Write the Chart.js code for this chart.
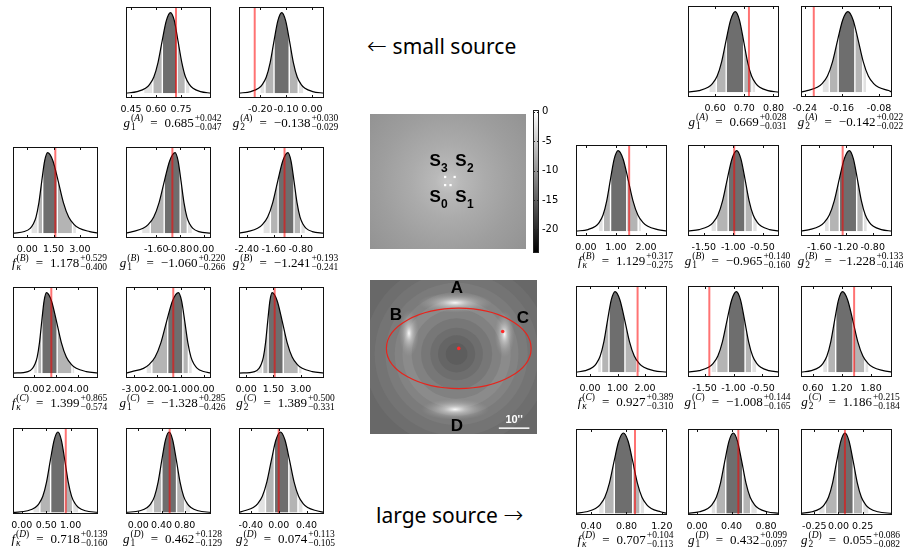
<!DOCTYPE html>
<html>
<head>
<meta charset="utf-8">
<script src="https://cdn.jsdelivr.net/npm/chart.js@4/dist/chart.umd.min.js"></script>
<style>
  html, body { margin: 0; padding: 0; background: #fff; }
  #stage { position: relative; width: 906px; height: 553px; overflow: hidden; }
  #stage canvas { position: absolute; }
  .lab { position: absolute; width: 150px; height: 26px; display: flex; align-items: center; justify-content: center;
         font-family: 'Liberation Serif', 'DejaVu Serif', serif; font-size: 13px; color: #000; white-space: nowrap; }
  .st { display: inline-flex; flex-direction: column; font-size: 9.5px; line-height: 9.5px; margin-left: 1px; }
  .eq { margin: 0 7px; }
  .big { position: absolute; font-family: 'Noto Sans', sans-serif; font-size: 21px; line-height: 24px; color: #000; white-space: nowrap; }
  .arr { font-family: 'DejaVu Sans', sans-serif; font-size: 24px; font-weight: 200; }
</style>
</head>
<body>
<div id="stage">
  <div class="big" style="left:367px;top:34px"><span class="arr">&larr;</span> small source</div>
  <div class="big" style="left:376px;top:503px">large source <span class="arr">&rarr;</span></div>
</div>
<script>
// 22 posterior panels: first 11 = small source (left), last 11 = large source (right)
const labelSym = ['g','g','f','g','g','f','g','g','f','g','g', 'g','g','f','g','g','f','g','g','f','g','g'];
const labelSub = ['1','2','κ','1','2','κ','1','2','κ','1','2', '1','2','κ','1','2','κ','1','2','κ','1','2'];
const labelSup = ['A','A','B','B','B','C','C','C','D','D','D', 'A','A','B','B','B','C','C','C','D','D','D'];
const medians  = [0.685, -0.138, 1.178, -1.060, -1.241, 1.399, -1.328, 1.389, 0.718, 0.462, 0.074,
                  0.669, -0.142, 1.129, -0.965, -1.228, 0.927, -1.008, 1.186, 0.707, 0.432, 0.055];
const errPlus  = [0.042, 0.030, 0.529, 0.220, 0.193, 0.865, 0.285, 0.500, 0.139, 0.128, 0.113,
                  0.028, 0.022, 0.317, 0.140, 0.133, 0.389, 0.144, 0.215, 0.104, 0.099, 0.086];
const errMinus = [0.047, 0.029, 0.400, 0.266, 0.241, 0.574, 0.426, 0.331, 0.160, 0.129, 0.105,
                  0.031, 0.022, 0.275, 0.160, 0.146, 0.310, 0.165, 0.184, 0.113, 0.097, 0.082];

const xMins = [0.42, -0.283, -0.81, -2.62, -2.63, -1.90, -3.35, -0.39, -0.18, -0.21, -0.57,
               0.507, -0.248, -0.33, -1.77, -1.875, -0.51, -1.785, 0.356, 0.229, -0.104, -0.387];
const xMaxs = [0.93, 0.047, 4.03, 0.25, -0.11, 5.80, 0.30, 4.28, 1.56, 1.25, 0.65,
               0.819, -0.052, 2.70, -0.22, -0.51, 2.80, -0.215, 2.23, 1.258, 0.95, 0.553];

const tickVals = [
  [0.45, 0.60, 0.75], [-0.2, -0.1, 0], [0, 1.5, 3], [-1.6, -0.8, 0], [-2.4, -1.6, -0.8],
  [0, 2, 4], [-3, -2, -1, 0], [0, 1.5, 3], [0, 0.5, 1], [0, 0.4, 0.8], [-0.4, 0, 0.4],
  [0.6, 0.7, 0.8], [-0.24, -0.16, -0.08], [0, 1, 2], [-1.5, -1, -0.5], [-1.6, -1.2, -0.8],
  [0, 1, 2], [-1.5, -1, -0.5], [0.6, 1.2, 1.8], [0.4, 0.8, 1.2], [0, 0.4, 0.8], [-0.25, 0, 0.25]
];

// input (true) value, red line
const trueVals = [0.72, -0.222, 1.60, -1.054, -1.28, 1.57, -1.32, 1.57, 0.90, 0.54, 0.0,
                  0.716, -0.2205, 1.44, -0.983, -1.25, 1.73, -1.417, 1.45, 0.896, 0.479, 0.067];

// shaded credible regions: outer edges of the 99 / 95 / 68 per cent bands
const bandEdges = [
  [0.530, 0.581, 0.638, 0.727, 0.776, 0.800],
  [-0.199, -0.182, -0.147, -0.088, -0.053, -0.034],
  [0.25, 0.61, 0.88, 1.71, 2.58, 2.77],
  [-2.07, -1.80, -1.33, -0.79, -0.55, -0.40],
  [-1.90, -1.70, -1.47, -1.00, -0.80, -0.68],
  [0.03, 0.33, 0.71, 2.10, 3.44, 3.64],
  [-2.46, -2.24, -1.56, -0.91, -0.67, -0.53],
  [0.59, 0.91, 1.21, 2.04, 2.87, 3.04],
  [0.24, 0.37, 0.59, 0.88, 1.04, 1.15],
  [0.144, 0.257, 0.406, 0.658, 0.80, 0.887],
  [-0.29, -0.19, -0.063, 0.145, 0.276, 0.34],
  [0.581, 0.604, 0.638, 0.698, 0.726, 0.737],
  [-0.201, -0.187, -0.168, -0.132, -0.115, -0.108],
  [0.44, 0.58, 0.82, 1.36, 1.74, 1.83],
  [-1.368, -1.283, -1.085, -0.80, -0.67, -0.60],
  [-1.515, -1.45, -1.30, -1.04, -0.94, -0.89],
  [0.30, 0.42, 0.69, 1.27, 1.70, 1.82],
  [-1.376, -1.29, -1.09, -0.80, -0.686, -0.61],
  [0.815, 0.906, 1.07, 1.43, 1.67, 1.74],
  [0.492, 0.549, 0.662, 0.870, 0.953, 0.998],
  [0.171, 0.220, 0.333, 0.530, 0.622, 0.692],
  [-0.198, -0.136, -0.012, 0.153, 0.250, 0.308]
];

// posterior curves (x positions), heights below
const curveHeights = [0, 0.02, 0.06, 0.11, 0.2, 0.38, 0.65, 0.9, 1, 0.9, 0.65, 0.38, 0.2, 0.11, 0.06, 0.02, 0];
const curveXs = [
  [0.42, 0.487, 0.537, 0.562, 0.587, 0.612, 0.637, 0.662, 0.687, 0.710, 0.732, 0.755, 0.777, 0.800, 0.822, 0.867, 0.93],
  [-0.283, -0.237, -0.207, -0.192, -0.177, -0.162, -0.147, -0.132, -0.117, -0.102, -0.087, -0.072, -0.057, -0.042, -0.027, 0.003, 0.047],
  [-0.81, -0.16, 0.17, 0.335, 0.50, 0.665, 0.83, 0.995, 1.16, 1.46, 1.76, 2.06, 2.36, 2.66, 2.96, 3.56, 4.03],
  [-2.62, -2.403, -2.043, -1.863, -1.683, -1.503, -1.323, -1.143, -0.963, -0.863, -0.763, -0.663, -0.563, -0.463, -0.363, -0.163, 0.25],
  [-2.63, -2.38, -2.08, -1.93, -1.78, -1.63, -1.48, -1.33, -1.18, -1.09, -1.00, -0.91, -0.82, -0.73, -0.64, -0.46, -0.11],
  [-1.90, -0.55, -0.13, 0.08, 0.29, 0.50, 0.71, 0.92, 1.13, 1.58, 2.03, 2.48, 2.93, 3.38, 3.83, 4.73, 5.80],
  [-3.35, -3.10, -2.60, -2.35, -2.10, -1.85, -1.60, -1.35, -1.10, -0.965, -0.83, -0.695, -0.56, -0.425, -0.29, -0.02, 0.30],
  [-0.39, 0.47, 0.71, 0.83, 0.95, 1.07, 1.19, 1.31, 1.43, 1.705, 1.98, 2.255, 2.53, 2.805, 3.08, 3.63, 4.28],
  [-0.18, 0.12, 0.275, 0.3525, 0.43, 0.5075, 0.585, 0.6625, 0.74, 0.81, 0.88, 0.95, 1.02, 1.09, 1.16, 1.30, 1.56],
  [-0.21, 0.03, 0.155, 0.2175, 0.28, 0.3425, 0.405, 0.4675, 0.53, 0.5925, 0.655, 0.7175, 0.78, 0.8425, 0.905, 1.03, 1.25],
  [-0.57, -0.495, -0.365, -0.30, -0.235, -0.17, -0.105, -0.04, 0.025, 0.09, 0.155, 0.22, 0.285, 0.35, 0.415, 0.545, 0.65],
  [0.507, 0.545, 0.576, 0.5915, 0.607, 0.6225, 0.638, 0.6535, 0.669, 0.683, 0.697, 0.711, 0.725, 0.739, 0.753, 0.781, 0.819],
  [-0.248, -0.235, -0.213, -0.202, -0.191, -0.18, -0.169, -0.158, -0.147, -0.136, -0.125, -0.114, -0.103, -0.092, -0.081, -0.059, -0.052],
  [-0.33, 0.07, 0.32, 0.445, 0.57, 0.695, 0.82, 0.945, 1.07, 1.235, 1.40, 1.565, 1.73, 1.895, 2.06, 2.39, 2.70],
  [-1.77, -1.58, -1.42, -1.34, -1.26, -1.18, -1.10, -1.02, -0.94, -0.87, -0.80, -0.73, -0.66, -0.59, -0.52, -0.38, -0.22],
  [-1.875, -1.75, -1.60, -1.525, -1.45, -1.375, -1.30, -1.225, -1.15, -1.09, -1.03, -0.97, -0.91, -0.85, -0.79, -0.67, -0.51],
  [-0.51, -0.17, 0.10, 0.235, 0.37, 0.505, 0.64, 0.775, 0.91, 1.085, 1.26, 1.435, 1.61, 1.785, 1.96, 2.31, 2.80],
  [-1.785, -1.59, -1.43, -1.35, -1.27, -1.19, -1.11, -1.03, -0.95, -0.88, -0.81, -0.74, -0.67, -0.60, -0.53, -0.39, -0.215],
  [0.356, 0.57, 0.73, 0.81, 0.89, 0.97, 1.05, 1.13, 1.21, 1.315, 1.42, 1.525, 1.63, 1.735, 1.84, 2.05, 2.23],
  [0.229, 0.345, 0.45, 0.5025, 0.555, 0.6075, 0.66, 0.7125, 0.765, 0.8175, 0.87, 0.9225, 0.975, 1.0275, 1.08, 1.185, 1.258],
  [-0.104, 0.028, 0.126, 0.175, 0.224, 0.273, 0.322, 0.371, 0.42, 0.469, 0.518, 0.567, 0.616, 0.665, 0.714, 0.812, 0.95],
  [-0.387, -0.273, -0.188, -0.1455, -0.103, -0.0605, -0.018, 0.0245, 0.067, 0.1095, 0.152, 0.1945, 0.237, 0.2795, 0.322, 0.407, 0.553]
];

// source-plane image: four sources (arcsec)
const srcX = [-0.93, 0.83, 2.16, -0.93];
const srcY = [-1.17, -1.17, 1.48, 1.48];
const srcLabelX = [-4.2, 4.2, 4.2, -4.2];
const srcLabelY = [-5.2, -5.2, 6.6, 6.6];
const srcGlowR = [0, 4, 12, 22, 34];
const srcGlowGray = [200, 185, 171, 158, 146];
const cbarTicks = [0, -5, -10, -15, -20];

// image-plane map (arcsec)
const ringR = [45, 30, 26.5, 23, 20, 17.5, 14.5, 11.5, 8.5, 6, 3.5];
const ringGray = [104, 110, 116, 123, 131, 139, 129, 119, 110, 101, 93];
const arcNames = ['A', 'B', 'C', 'D'];
const arcX = [0.5, -14.4, 16.5, 0.5];
const arcY = [17.6, 7.7, 7.4, -17.0];
const arcRx = [12, 3.2, 3.2, 11];
const arcRy = [3.2, 7.5, 7.5, 3.4];
const arcLabelX = [1.1, -18.6, 22.4, 1.1];
const arcLabelY = [22.2, 13.5, 12.7, -22.5];
const ellipseC = [1.7, 2.8];
const ellipseAx = [23.4, 13.0];
const lensDotX = [1.7, 15.9];
const lensDotY = [2.8, 8.3];
const scaleBarX = [14.66, 24.54];
const scaleBarY = -23.1;

// ---- layout ----
const PADX = 24, PADT = 2, AXH = 20;
const colX = [[13, 126, 239], [576, 688, 801]];
const rowY = [[7, 147, 287, 428], [6, 145, 286, 429]];
const boxW = [85, 91];
const rowH = [91, 91, 91, 86];
const rowYRange = [[-0.06, 1.07], [-0.06, 1.07], [-0.06, 1.07], [-0.02, 1.05]];
const bandColors = ['#e2e2e2', '#b4b4b4', '#6e6e6e', '#b4b4b4', '#e2e2e2'];

const stage = document.getElementById('stage');
const quiet = { legend: { display: false }, tooltip: { enabled: false } };

function addCanvas(left, top, w, h) {
  const cv = document.createElement('canvas');
  cv.width = w; cv.height = h;
  cv.style.left = left + 'px'; cv.style.top = top + 'px';
  cv.style.width = w + 'px'; cv.style.height = h + 'px';
  stage.appendChild(cv);
  return cv;
}

function fmtSigned(v) {
  return (v < 0 ? '−' : '') + Math.abs(v).toFixed(3);
}

function labelHtml(i) {
  const sym = '<i>' + labelSym[i] + '</i>';
  const sub = labelSub[i] === 'κ' ? '<i>κ</i>' : labelSub[i];
  return sym + '<span class="st"><span>(<i>' + labelSup[i] + '</i>)</span><span>' + sub + '</span></span>' +
    '<span class="eq">=</span>' + fmtSigned(medians[i]) +
    '<span class="st"><span>+' + errPlus[i].toFixed(3) + '</span><span>−' + errMinus[i].toFixed(3) + '</span></span>';
}

function posteriorPlugin(i) {
  return {
    id: 'post' + i,
    beforeDatasetsDraw(chart) {
      const { ctx, chartArea: a, scales: { x, y } } = chart;
      const meta = chart.getDatasetMeta(1);
      const line = meta.dataset;
      const pts = meta.data;
      line.updateControlPoints(a, 'x');
      const base = y.getPixelForValue(0);
      const e = bandEdges[i];
      for (let k = 0; k < 5; k++) {
        const l = x.getPixelForValue(e[k]) + (k > 0 ? 0.7 : 0);
        const r = x.getPixelForValue(e[k + 1]) - (k < 4 ? 0.7 : 0);
        ctx.save();
        ctx.beginPath();
        ctx.rect(l, a.top, r - l, base - a.top);
        ctx.clip();
        ctx.beginPath();
        line.path(ctx);
        ctx.lineTo(pts[pts.length - 1].x, base);
        ctx.lineTo(pts[0].x, base);
        ctx.closePath();
        ctx.fillStyle = bandColors[k];
        ctx.fill();
        ctx.restore();
      }
    },
    afterDatasetsDraw(chart) {
      const { ctx, chartArea: a, scales: { x } } = chart;
      ctx.save();
      ctx.strokeStyle = '#111';
      ctx.lineWidth = 1;
      ctx.strokeRect(Math.round(a.left) + 0.5, Math.round(a.top) + 0.5, Math.round(a.width) - 1, Math.round(a.height) - 1);
      ctx.beginPath();
      tickVals[i].forEach(v => {
        const px = Math.round(x.getPixelForValue(v)) + 0.5;
        ctx.moveTo(px, a.bottom); ctx.lineTo(px, a.bottom - 3);
        ctx.moveTo(px, a.top); ctx.lineTo(px, a.top + 3);
      });
      ctx.stroke();
      ctx.restore();
    }
  };
}

function makePosterior(i, left, top, w, h, yr) {
  const cv = addCanvas(left - PADX, top - PADT, w + 2 * PADX, h + PADT + AXH);
  const pts = curveXs[i].map((x, k) => ({ x, y: curveHeights[k] }));
  new Chart(cv, {
    type: 'line',
    data: {
      datasets: [
        { data: [{ x: trueVals[i], y: yr[0] - 1 }, { x: trueVals[i], y: yr[1] + 1 }],
          borderColor: 'rgba(255,0,0,0.55)', borderWidth: 2, pointRadius: 0, clip: 0 },
        { data: pts, borderColor: '#000', borderWidth: 1.2, pointRadius: 0,
          cubicInterpolationMode: 'monotone', fill: false }
      ]
    },
    options: {
      responsive: false, animation: false, events: [],
      layout: { padding: { left: PADX, right: PADX, top: PADT, bottom: 0 } },
      plugins: quiet,
      scales: {
        x: {
          type: 'linear', min: xMins[i], max: xMaxs[i],
          grid: { display: false, drawTicks: false }, border: { display: false },
          afterBuildTicks: s => { s.ticks = tickVals[i].map(v => ({ value: v })); },
          afterFit: s => { s.height = AXH; s.paddingLeft = 0; s.paddingRight = 0; },
          ticks: {
            autoSkip: false, maxRotation: 0, minRotation: 0, padding: 6, color: '#000',
            font: { family: 'DejaVu Sans', size: 9.5 },
            callback: v => (Math.abs(v) < 1e-9 ? 0 : v).toFixed(2)
          }
        },
        y: { display: false, min: yr[0], max: yr[1] }
      }
    },
    plugins: [posteriorPlugin(i)]
  });

  const lab = document.createElement('div');
  lab.className = 'lab';
  lab.style.left = (left + w / 2 - 75 + 4) + 'px';
  lab.style.top = (top + h + 12) + 'px';
  lab.innerHTML = labelHtml(i);
  stage.appendChild(lab);
}

// build the two 4-row grids of posterior panels
let idx = 0;
for (let side = 0; side < 2; side++) {
  for (let row = 0; row < 4; row++) {
    const cols = row === 0 ? [1, 2] : [0, 1, 2];
    cols.forEach(c => {
      makePosterior(idx, colX[side][c], rowY[side][row], boxW[side], rowH[row], rowYRange[row]);
      idx++;
    });
  }
}

// ---- source plane (top centre) ----
const hidden = { display: false };
new Chart(addCanvas(366, 110, 164, 143), {
  type: 'scatter',
  data: { datasets: [{ data: srcX.map((x, k) => ({ x, y: srcY[k] })), pointStyle: 'rect',
    pointRadius: 1.6, backgroundColor: '#fff', borderWidth: 0 }] },
  options: {
    responsive: false, animation: false, events: [], plugins: quiet,
    layout: { padding: 0 },
    scales: { x: { ...hidden, min: -25.3, max: 25.3 }, y: { ...hidden, min: -22.05, max: 22.05 } }
  },
  plugins: [{
    id: 'srcbg',
    beforeDatasetsDraw(chart) {
      const { ctx, chartArea: a, scales: { x, y } } = chart;
      const cx = x.getPixelForValue(0), cy = y.getPixelForValue(0);
      const unit = x.getPixelForValue(1) - x.getPixelForValue(0);
      const rMax = srcGlowR[srcGlowR.length - 1] * unit;
      const g = ctx.createRadialGradient(cx, cy, 0, cx, cy, rMax);
      srcGlowR.forEach((r, k) => {
        const c = srcGlowGray[k];
        g.addColorStop(r * unit / rMax, `rgb(${c},${c},${c})`);
      });
      ctx.save();
      ctx.fillStyle = g;
      ctx.fillRect(a.left, a.top, a.width, a.height);
      ctx.restore();
    },
    afterDatasetsDraw(chart) {
      const { ctx, scales: { x, y } } = chart;
      ctx.save();
      ctx.fillStyle = '#000';
      ctx.textBaseline = 'middle';
      srcLabelX.forEach((lx, k) => {
        const px = x.getPixelForValue(lx), py = y.getPixelForValue(srcLabelY[k]);
        ctx.font = 'bold 17px "Liberation Sans", Arial, sans-serif';
        ctx.textAlign = 'center';
        ctx.fillText('S', px, py);
        ctx.font = 'bold 12px "Liberation Sans", Arial, sans-serif';
        ctx.textAlign = 'left';
        ctx.fillText(String(k), px + 6, py + 7);
      });
      ctx.restore();
    }
  }]
});

// colour bar
new Chart(addCanvas(533, 104, 28, 155), {
  type: 'scatter',
  data: { datasets: [] },
  options: {
    responsive: false, animation: false, events: [], plugins: quiet,
    layout: { padding: { top: 6, bottom: 6, left: 0, right: 0 } },
    scales: {
      x: { ...hidden, min: 0, max: 1 },
      y: {
        position: 'right', min: -24, max: 0.3,
        grid: { display: false, drawTicks: false }, border: { display: false },
        afterBuildTicks: s => { s.ticks = cbarTicks.map(v => ({ value: v })); },
        afterFit: s => { s.width = 22; s.paddingTop = 0; s.paddingBottom = 0; },
        ticks: { padding: 3, color: '#000', font: { family: 'DejaVu Sans', size: 10 }, callback: v => String(v) }
      }
    }
  },
  plugins: [{
    id: 'cbar',
    beforeDatasetsDraw(chart) {
      const { ctx, chartArea: a, scales: { y } } = chart;
      const g = ctx.createLinearGradient(0, y.getPixelForValue(0), 0, y.getPixelForValue(-24));
      g.addColorStop(0, '#ffffff');
      g.addColorStop(1, '#000000');
      ctx.save();
      ctx.fillStyle = g;
      ctx.fillRect(a.left, a.top, a.width, a.height);
      ctx.strokeStyle = '#222';
      ctx.lineWidth = 1;
      ctx.strokeRect(a.left + 0.5, a.top + 0.5, a.width - 1, a.height - 1);
      ctx.beginPath();
      cbarTicks.forEach(v => {
        const py = Math.round(y.getPixelForValue(v)) + 0.5;
        ctx.moveTo(a.right, py); ctx.lineTo(a.right - 2, py);
        ctx.moveTo(a.left, py); ctx.lineTo(a.left + 2, py);
      });
      ctx.stroke();
      ctx.restore();
    }
  }]
});

// ---- image plane (bottom centre) ----
new Chart(addCanvas(366, 276, 175, 162), {
  type: 'scatter',
  data: {
    datasets: [
      { data: lensDotX.map((x, k) => ({ x, y: lensDotY[k] })), pointRadius: 1.8,
        backgroundColor: '#ff2a2a', borderWidth: 0 },
      { data: scaleBarX.map(x => ({ x, y: scaleBarY })), showLine: true, borderColor: '#fff',
        borderWidth: 1.5, pointRadius: 0 }
    ]
  },
  options: {
    responsive: false, animation: false, events: [], plugins: quiet,
    layout: { padding: 0 },
    scales: { x: { ...hidden, min: -27, max: 27 }, y: { ...hidden, min: -25, max: 25 } }
  },
  plugins: [{
    id: 'lensbg',
    beforeDatasetsDraw(chart) {
      const { ctx, chartArea: a, scales: { x, y } } = chart;
      const unit = x.getPixelForValue(1) - x.getPixelForValue(0);
      const cx = x.getPixelForValue(1), cy = y.getPixelForValue(1);
      ctx.save();
      ctx.beginPath(); ctx.rect(a.left, a.top, a.width, a.height); ctx.clip();
      ctx.fillStyle = '#686868';
      ctx.fillRect(a.left, a.top, a.width, a.height);
      ringR.forEach((r, k) => {
        const c = ringGray[k];
        ctx.fillStyle = `rgb(${c},${c},${c})`;
        ctx.beginPath(); ctx.arc(cx, cy, r * unit, 0, Math.PI * 2); ctx.fill();
      });
      arcX.forEach((ax, k) => {
        ctx.save();
        ctx.translate(x.getPixelForValue(ax), y.getPixelForValue(arcY[k]));
        ctx.scale(arcRx[k] * unit, arcRy[k] * unit);
        const g = ctx.createRadialGradient(0, 0, 0, 0, 0, 1);
        g.addColorStop(0, 'rgba(255,255,255,0.95)');
        g.addColorStop(0.3, 'rgba(225,225,225,0.6)');
        g.addColorStop(0.7, 'rgba(190,190,190,0.25)');
        g.addColorStop(1, 'rgba(170,170,170,0)');
        ctx.fillStyle = g;
        ctx.beginPath(); ctx.arc(0, 0, 1, 0, Math.PI * 2); ctx.fill();
        ctx.restore();
      });
      ctx.strokeStyle = '#e8241c';
      ctx.lineWidth = 1.2;
      ctx.beginPath();
      ctx.ellipse(x.getPixelForValue(ellipseC[0]), y.getPixelForValue(ellipseC[1]),
        ellipseAx[0] * unit, ellipseAx[1] * unit, 0, 0, Math.PI * 2);
      ctx.stroke();
      ctx.restore();
    },
    afterDatasetsDraw(chart) {
      const { ctx, scales: { x, y } } = chart;
      ctx.save();
      ctx.textAlign = 'center';
      ctx.textBaseline = 'middle';
      ctx.fillStyle = '#000';
      ctx.font = 'bold 17px "Liberation Sans", Arial, sans-serif';
      arcNames.forEach((n, k) => ctx.fillText(n, x.getPixelForValue(arcLabelX[k]), y.getPixelForValue(arcLabelY[k])));
      ctx.fillStyle = '#fff';
      ctx.font = 'bold 11px "Liberation Sans", Arial, sans-serif';
      ctx.fillText("10''", x.getPixelForValue((scaleBarX[0] + scaleBarX[1]) / 2), y.getPixelForValue(scaleBarY + 2.5));
      ctx.restore();
    }
  }]
});
</script>
</body>
</html>
